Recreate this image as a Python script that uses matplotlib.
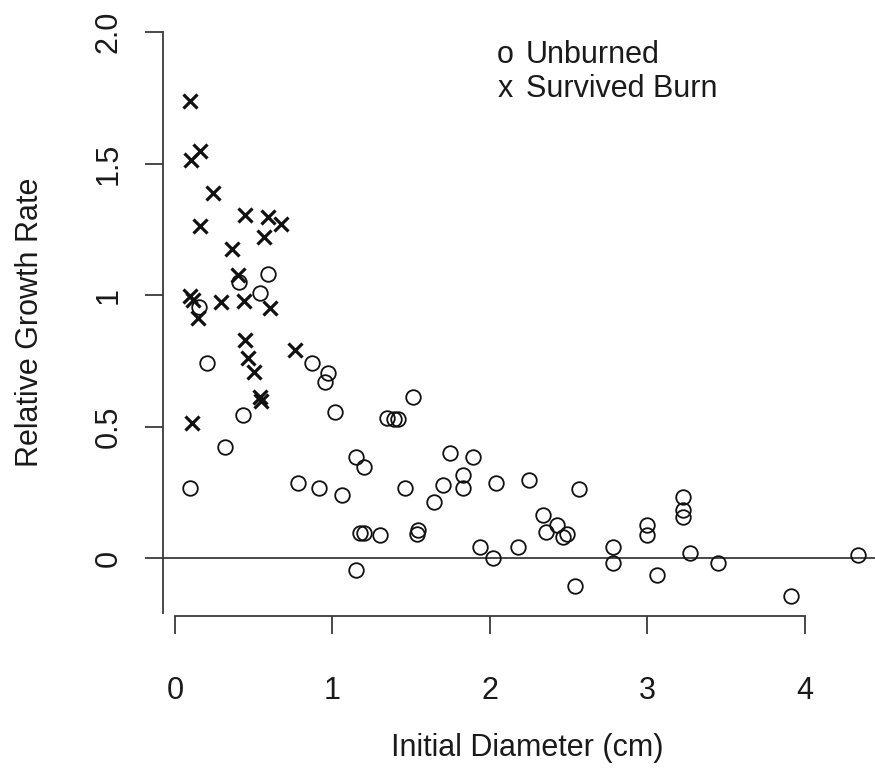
import matplotlib
matplotlib.use("Agg")
import matplotlib.pyplot as plt

# Survived Burn (x markers)
burn_x = [0.095, 0.159, 0.10, 0.243, 0.159, 0.444, 0.593, 0.671, 0.565, 0.366,
          0.402, 0.095, 0.115, 0.148, 0.296, 0.44, 0.603, 0.444, 0.466, 0.504,
          0.54, 0.55, 0.762, 0.112]
burn_y = [1.739, 1.549, 1.513, 1.387, 1.262, 1.304, 1.298, 1.27, 1.222, 1.174,
          1.078, 0.998, 0.98, 0.913, 0.975, 0.978, 0.952, 0.829, 0.762, 0.708,
          0.613, 0.596, 0.791, 0.512]

# Unburned (o markers)
unb_x = [0.41, 0.593, 0.54, 0.152, 0.207, 0.868, 0.434, 0.317, 0.095, 0.783,
         0.916, 0.974, 0.952, 1.016, 1.513, 1.345, 1.39, 1.418, 1.153, 1.2,
         1.058, 1.46, 1.746, 1.894, 1.83, 1.704, 1.827, 1.644, 1.175, 1.2,
         1.30, 1.545, 1.534, 1.149, 1.94, 2.038, 2.25, 2.567, 2.339, 2.423,
         2.356, 2.466, 2.49, 2.021, 2.18, 2.54, 2.779, 2.779, 3.0, 3.0,
         3.058, 3.223, 3.227, 3.227, 3.27, 3.45, 3.909, 4.339]
unb_y = [1.05, 1.08, 1.006, 0.955, 0.74, 0.74, 0.544, 0.423, 0.265, 0.284,
         0.265, 0.702, 0.670, 0.556, 0.613, 0.531, 0.528, 0.527, 0.385, 0.345,
         0.24, 0.265, 0.398, 0.385, 0.316, 0.278, 0.265, 0.214, 0.094, 0.096,
         0.087, 0.106, 0.093, -0.046, 0.043, 0.284, 0.297, 0.261, 0.163, 0.125,
         0.1, 0.081, 0.09, -0.001, 0.043, -0.106, 0.043, -0.02, 0.125, 0.087,
         -0.065, 0.233, 0.183, 0.157, 0.018, -0.02, -0.145, 0.011]

y_ticks = [0, 0.5, 1, 1.5, 2]
y_labels = ["0", "0.5", "1", "1.5", "2.0"]
x_ticks = [0, 1, 2, 3, 4]

W, H = 875, 773
plt.rcParams["font.family"] = ["Liberation Sans", "DejaVu Sans"]
fig = plt.figure(figsize=(W / 100, H / 100), dpi=100)

# axes box in pixels: left 163, right 875, bottom 616, top 20
ax = fig.add_axes([163 / W, (H - 616) / H, (W - 163) / W, (616 - 20) / H])
ax.set_xlim(-0.075, 4.444)
ax.set_ylim(-0.2205, 2.046)

line_col = "#3a3a3a"
txt_col = "#1a1a1a"
ax.axhline(0, color=line_col, lw=1.3, zorder=1)

ax.plot(unb_x, unb_y, linestyle="none", marker="o", markersize=10.5,
        markerfacecolor="none", markeredgecolor="#111111", markeredgewidth=1.3,
        zorder=2)
ax.plot(burn_x, burn_y, linestyle="none", marker="x", markersize=10.5,
        markeredgecolor="#111111", markeredgewidth=2.3, zorder=3)

for s in ["top", "right"]:
    ax.spines[s].set_visible(False)
ax.spines["left"].set_bounds(-0.21, 2.0)
ax.spines["bottom"].set_bounds(0, 4)
for s in ["left", "bottom"]:
    ax.spines[s].set_color(line_col)
    ax.spines[s].set_linewidth(1.3)

ax.set_xticks(x_ticks)
ax.set_xticklabels([str(v) for v in x_ticks])
ax.set_yticks(y_ticks)
ax.set_yticklabels(y_labels, rotation=90, va="center")
ax.tick_params(axis="both", length=13, width=1.3, color=line_col,
               labelsize=22, labelcolor=txt_col)
ax.tick_params(axis="x", pad=30)
ax.tick_params(axis="y", pad=15.5)

fig.text(527 / W, 1 - 748 / H, "Initial Diameter (cm)", ha="center", va="center",
         fontsize=22, color=txt_col)
fig.text(30 / W, 1 - 322 / H, "Relative Growth Rate", ha="center", va="center",
         rotation=90, fontsize=22, color=txt_col)

# legend drawn as pch-style characters, no box
fig.text(505 / W, 1 - 55 / H, "o", ha="center", va="center", fontsize=22, color=txt_col)
fig.text(526 / W, 1 - 55 / H, "Unburned", ha="left", va="center", fontsize=22, color=txt_col)
fig.text(505 / W, 1 - 89 / H, "x", ha="center", va="center", fontsize=22, color=txt_col)
fig.text(526 / W, 1 - 89 / H, "Survived Burn", ha="left", va="center", fontsize=22, color=txt_col)

fig.savefig("out.png", dpi=100)
